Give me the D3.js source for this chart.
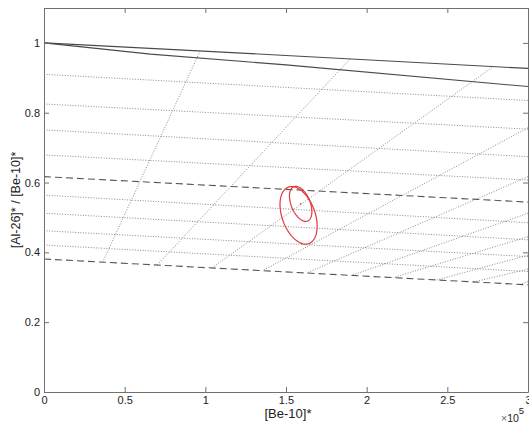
<!DOCTYPE html>
<html>
<head>
<meta charset="utf-8">
<script src="https://cdn.jsdelivr.net/npm/d3@7"></script>
<style>
  body { margin: 0; background: #fff; }
  text { font-family: "Liberation Sans", Arial, Helvetica, sans-serif; fill: #222; }
</style>
</head>
<body>
<div id="chart"></div>
<script>
// [Be-10]* in units of 1e5, ratio [Al-26]*/[Be-10]*
const xTicks = [0, 0.5, 1, 1.5, 2, 2.5, 3];
const yTicks = [0, 0.2, 0.4, 0.6, 0.8, 1];

// solid curves
const constExposure = [[0, 1], [1.5, 0.964], [3, 0.927]];
const steadyErosion = [[0, 1], [0.66, 0.968], [1.5, 0.937], [3, 0.875]];

// dashed burial curves
const burialUpper = [[0, 0.617], [3, 0.544]];
const burialLower = [[0, 0.381], [3, 0.307]];

// dotted isochrons (value at x=0 and at x=3)
const isoLeft = [0.910, 0.825, 0.751, 0.679, 0.564, 0.512, 0.462, 0.421];
const isoRight = [0.835, 0.753, 0.674, 0.607, 0.485, 0.436, 0.388, 0.345];

// dotted burial paths: top point and bottom point
const pathTopX = [0.967, 1.897, 2.775, 3, 3, 3, 3, 3, 3, 3];
const pathTopY = [0.976, 0.954, 0.929, 0.757, 0.617, 0.512, 0.445, 0.392, 0.352, 0.316];
const pathBotX = [0.364, 0.702, 1.04, 1.356, 1.629, 1.908, 2.166, 2.435, 2.661, 2.95];
const pathBotY = [0.372, 0.364, 0.355, 0.348, 0.341, 0.334, 0.328, 0.321, 0.315, 0.308];

// error ellipses: centre, major and minor half-axis vectors (data units)
const ellCenter = [[1.578, 0.506], [1.591, 0.539]];
const ellMajor = [[0.0636, -0.0808], [0.0430, -0.0491]];
const ellMinor = [[0.0961, 0.0162], [0.0546, 0.0102]];
const sampleDot = [1.591, 0.539];

const width = 529, height = 427;
const margin = { top: 8, right: 1, bottom: 35, left: 44 };
const iw = width - margin.left - margin.right;
const ih = height - margin.top - margin.bottom;

const svg = d3.select('#chart').append('svg')
  .attr('width', width)
  .attr('height', height);

const x = d3.scaleLinear().domain([0, 3]).range([0, iw]);
const y = d3.scaleLinear().domain([0, 1.1]).range([ih, 0]);

const g = svg.append('g')
  .attr('transform', 'translate(' + margin.left + ',' + margin.top + ')');

g.append('clipPath').attr('id', 'clip')
  .append('rect').attr('width', iw).attr('height', ih);

const plot = g.append('g').attr('clip-path', 'url(#clip)');

const line = d3.line().x(d => x(d[0])).y(d => y(d[1]));

// dotted isochrons
isoLeft.forEach((v, i) => {
  plot.append('path')
    .attr('d', line([[0, v], [3, isoRight[i]]]))
    .attr('fill', 'none')
    .attr('stroke', '#8c8c8c')
    .attr('stroke-width', 1)
    .attr('stroke-dasharray', '1,1.6');
});

// dotted burial paths
pathTopX.forEach((v, i) => {
  plot.append('path')
    .attr('d', line([[v, pathTopY[i]], [pathBotX[i], pathBotY[i]]]))
    .attr('fill', 'none')
    .attr('stroke', '#8c8c8c')
    .attr('stroke-width', 1)
    .attr('stroke-dasharray', '1,1.6');
});

// dashed burial curves
[burialUpper, burialLower].forEach(d => {
  plot.append('path')
    .attr('d', line(d))
    .attr('fill', 'none')
    .attr('stroke', '#555')
    .attr('stroke-width', 1.1)
    .attr('stroke-dasharray', '7,4');
});

// solid curves
[constExposure, steadyErosion].forEach(d => {
  plot.append('path')
    .attr('d', line(d))
    .attr('fill', 'none')
    .attr('stroke', '#4a4a4a')
    .attr('stroke-width', 1.1);
});

// ellipses
ellCenter.forEach((c, i) => {
  const pts = d3.range(0, 361, 4).map(a => {
    const t = a * Math.PI / 180;
    return [c[0] + ellMajor[i][0] * Math.cos(t) + ellMinor[i][0] * Math.sin(t),
            c[1] + ellMajor[i][1] * Math.cos(t) + ellMinor[i][1] * Math.sin(t)];
  });
  plot.append('path')
    .attr('d', line(pts) + 'Z')
    .attr('fill', 'none')
    .attr('stroke', '#e0393e')
    .attr('stroke-width', 1.2);
});

plot.append('circle')
  .attr('cx', x(sampleDot[0]))
  .attr('cy', y(sampleDot[1]))
  .attr('r', 0.8)
  .attr('fill', '#e0393e');

// axes box with inward ticks on all sides
const axisColor = '#707070';
function styleAxis(sel) {
  sel.select('.domain').attr('stroke', axisColor);
  sel.selectAll('.tick line').attr('stroke', axisColor);
  sel.selectAll('.tick text').style('font-size', '11px').attr('fill', '#222');
}

g.append('g').attr('transform', 'translate(0,' + ih + ')')
  .call(d3.axisBottom(x).tickValues(xTicks).tickSize(-5).tickSizeOuter(0).tickPadding(4)
    .tickFormat(d3.format('')))
  .call(styleAxis);

g.append('g')
  .call(d3.axisTop(x).tickValues(xTicks).tickSize(-5).tickSizeOuter(0).tickFormat(''))
  .call(styleAxis);

g.append('g')
  .call(d3.axisLeft(y).tickValues(yTicks).tickSize(-5).tickSizeOuter(0).tickPadding(4)
    .tickFormat(d3.format('')))
  .call(styleAxis);

g.append('g').attr('transform', 'translate(' + iw + ',0)')
  .call(d3.axisRight(y).tickValues(yTicks).tickSize(-5).tickSizeOuter(0).tickFormat(''))
  .call(styleAxis);

// labels
svg.append('text')
  .attr('x', margin.left + iw / 2 + 2)
  .attr('y', 418)
  .attr('text-anchor', 'middle')
  .style('font-size', '13px')
  .text('[Be-10]*');

svg.append('text')
  .attr('transform', 'translate(20,' + (margin.top + ih / 2) + ') rotate(-90)')
  .attr('text-anchor', 'middle')
  .style('font-size', '12.5px')
  .text('[Al-26]* / [Be-10]*');

const expo = svg.append('text')
  .attr('x', 501)
  .attr('y', 422)
  .style('font-size', '10.5px');
expo.append('tspan').attr('fill', '#666').text('\u00d7');
expo.append('tspan').text('10');
expo.append('tspan').attr('dy', -8).style('font-size', '9.5px').text('5');
</script>
</body>
</html>
